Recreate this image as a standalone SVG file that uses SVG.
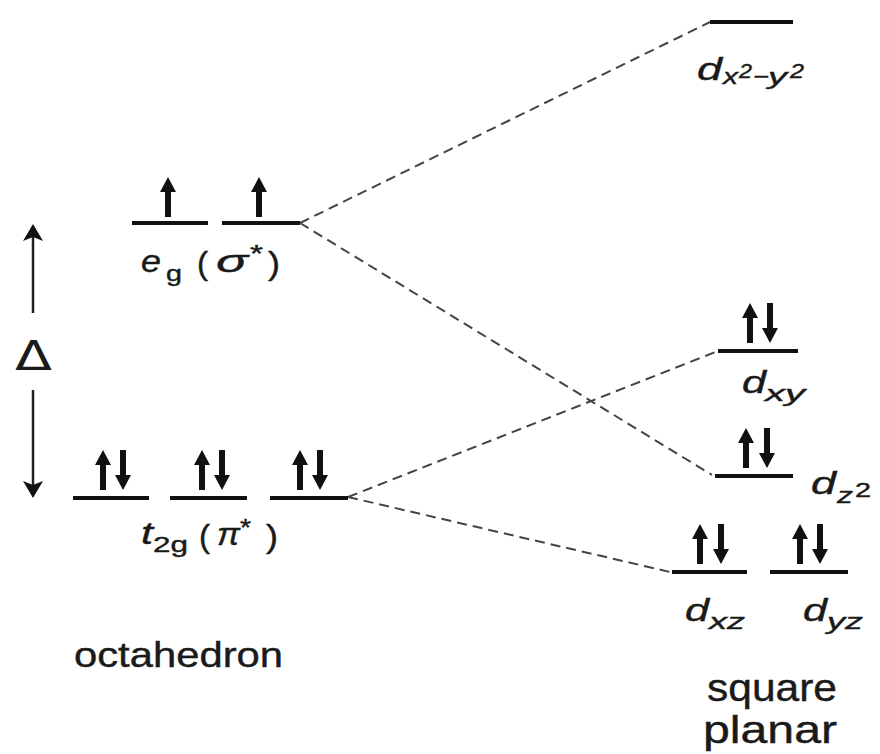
<svg xmlns="http://www.w3.org/2000/svg" width="880" height="754" viewBox="0 0 880 754">
<style>
.lvl{stroke:#111;stroke-width:4;fill:none}
.dash{stroke:#444;stroke-width:2;stroke-dasharray:10 6;fill:none}
.t{font-family:"Liberation Sans",Arial,sans-serif;fill:#1a1a1a;stroke:#1a1a1a;stroke-width:0.4}
.i{font-style:italic}
.e{fill:#111}
.thin{stroke:#222;stroke-width:2.5;fill:none}
</style>
<defs>
<path id="up" d="M-3,0 V-25 H-8 L0,-40 L8,-25 H3 V0 Z"/>
<path id="dn" d="M-3,-40 V-15 H-8 L0,0 L8,-15 H3 V-40 Z"/>
</defs>
<rect width="880" height="754" fill="#fff"/>
<g id="connectors">
<line class="dash" x1="300" y1="223" x2="710" y2="22"/>
<line class="dash" x1="300" y1="223" x2="712" y2="475"/>
<line class="dash" x1="348" y1="497" x2="718" y2="351"/>
<line class="dash" x1="348" y1="497" x2="670" y2="572"/>
</g>
<g id="delta">
<line class="thin" x1="33" y1="313" x2="33" y2="232"/>
<path class="e" d="M33,224 L43,241 L33,237 L23,241 Z"/>
<line class="thin" x1="33" y1="390" x2="33" y2="490"/>
<path class="e" d="M33,498 L43,481 L33,485 L23,481 Z"/>
<text x="15" y="370" font-family="DejaVu Sans, sans-serif" font-size="40" fill="#1a1a1a" textLength="37" lengthAdjust="spacingAndGlyphs">Δ</text>
</g>
<g id="eg">
<line class="lvl" x1="132" y1="223" x2="208" y2="223"/>
<line class="lvl" x1="222" y1="223" x2="300" y2="223"/>
<use href="#up" class="e" x="168" y="217"/>
<use href="#up" class="e" x="259" y="217"/>
<text class="t i" x="141" y="272" font-size="32" textLength="20" lengthAdjust="spacingAndGlyphs">e</text>
<text class="t" x="166" y="281" font-size="22" textLength="16" lengthAdjust="spacingAndGlyphs">g</text>
<text class="t" x="197" y="274" font-size="32" textLength="11" lengthAdjust="spacingAndGlyphs">(</text>
<text class="t i" x="216" y="272" font-size="32" textLength="32" lengthAdjust="spacingAndGlyphs">σ</text>
<text class="t" x="250" y="262" font-size="24" textLength="13" lengthAdjust="spacingAndGlyphs">*</text>
<text class="t" x="268" y="274" font-size="32" textLength="12" lengthAdjust="spacingAndGlyphs">)</text>
</g>
<g id="t2g">
<line class="lvl" x1="73" y1="498" x2="149" y2="498"/>
<line class="lvl" x1="170" y1="498" x2="247" y2="498"/>
<line class="lvl" x1="270" y1="498" x2="348" y2="498"/>
<use href="#up" class="e" x="103" y="490"/>
<use href="#dn" class="e" x="123" y="490"/>
<use href="#up" class="e" x="202" y="490"/>
<use href="#dn" class="e" x="222" y="490"/>
<use href="#up" class="e" x="300" y="490"/>
<use href="#dn" class="e" x="320" y="490"/>
<text class="t i" x="141" y="544" font-size="32" textLength="12" lengthAdjust="spacingAndGlyphs">t</text>
<text class="t" x="153" y="552" font-size="22" textLength="35" lengthAdjust="spacingAndGlyphs">2g</text>
<text class="t" x="199" y="547" font-size="32" textLength="11" lengthAdjust="spacingAndGlyphs">(</text>
<text class="t i" x="217" y="545" font-size="32" textLength="23" lengthAdjust="spacingAndGlyphs">π</text>
<text class="t" x="240" y="536" font-size="24" textLength="11" lengthAdjust="spacingAndGlyphs">*</text>
<text class="t" x="266" y="547" font-size="32" textLength="12" lengthAdjust="spacingAndGlyphs">)</text>
</g>
<g id="dx2y2">
<line class="lvl" x1="710" y1="22" x2="793" y2="22"/>
<text class="t i" x="697" y="80" font-size="32" textLength="25" lengthAdjust="spacingAndGlyphs">d</text>
<text class="t i" x="723" y="84" font-size="22" textLength="15" lengthAdjust="spacingAndGlyphs">x</text>
<text class="t i" x="739" y="78" font-size="20" textLength="13" lengthAdjust="spacingAndGlyphs">2</text>
<text class="t i" x="753" y="84" font-size="22" textLength="16" lengthAdjust="spacingAndGlyphs">−</text>
<text class="t i" x="768" y="84" font-size="22" textLength="19" lengthAdjust="spacingAndGlyphs">y</text>
<text class="t i" x="790" y="78" font-size="20" textLength="14" lengthAdjust="spacingAndGlyphs">2</text>
</g>
<g id="dxy">
<line class="lvl" x1="718" y1="351" x2="798" y2="351"/>
<use href="#up" class="e" x="750" y="343"/>
<use href="#dn" class="e" x="770" y="343"/>
<text class="t i" x="742" y="393" font-size="32" textLength="24" lengthAdjust="spacingAndGlyphs">d</text>
<text class="t i" x="765" y="401" font-size="22" textLength="40" lengthAdjust="spacingAndGlyphs">xy</text>
</g>
<g id="dz2">
<line class="lvl" x1="715" y1="476" x2="793" y2="476"/>
<use href="#up" class="e" x="746" y="468"/>
<use href="#dn" class="e" x="767" y="468"/>
<text class="t i" x="811" y="494" font-size="32" textLength="25" lengthAdjust="spacingAndGlyphs">d</text>
<text class="t i" x="837" y="503" font-size="22" textLength="16" lengthAdjust="spacingAndGlyphs">z</text>
<text class="t" x="855" y="497" font-size="20" textLength="16" lengthAdjust="spacingAndGlyphs">2</text>
</g>
<g id="dxz">
<line class="lvl" x1="672" y1="572" x2="747" y2="572"/>
<use href="#up" class="e" x="700" y="564"/>
<use href="#dn" class="e" x="721" y="564"/>
<text class="t i" x="685" y="621" font-size="32" textLength="24" lengthAdjust="spacingAndGlyphs">d</text>
<text class="t i" x="709" y="629" font-size="22" textLength="36" lengthAdjust="spacingAndGlyphs">xz</text>
</g>
<g id="dyz">
<line class="lvl" x1="770" y1="572" x2="848" y2="572"/>
<use href="#up" class="e" x="800" y="564"/>
<use href="#dn" class="e" x="820" y="564"/>
<text class="t i" x="803" y="621" font-size="32" textLength="24" lengthAdjust="spacingAndGlyphs">d</text>
<text class="t i" x="827" y="629" font-size="22" textLength="36" lengthAdjust="spacingAndGlyphs">yz</text>
</g>
<g id="labels">
<text class="t" x="74" y="667" font-size="35" textLength="209" lengthAdjust="spacingAndGlyphs">octahedron</text>
<text class="t" x="707" y="701" font-size="38" textLength="130" lengthAdjust="spacingAndGlyphs">square</text>
<text class="t" x="703" y="743" font-size="38" textLength="134" lengthAdjust="spacingAndGlyphs">planar</text>
</g>
</svg>
